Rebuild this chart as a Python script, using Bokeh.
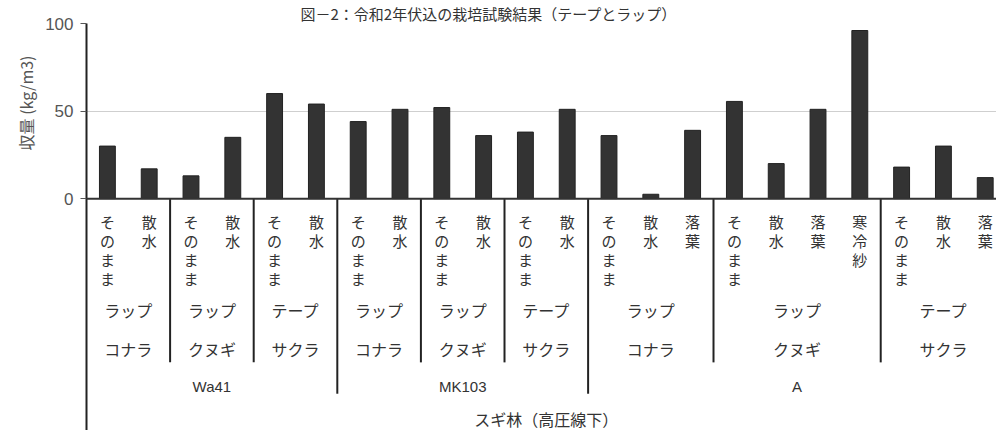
import math
from bokeh.plotting import figure
from bokeh.models import Range1d, FixedTicker, Span, Title
from bokeh.core.properties import value
from bokeh.embed import file_html
from bokeh.resources import INLINE

# ---------------- data ----------------
treatments = ["そのまま", "散水", "そのまま", "散水", "そのまま", "散水",
              "そのまま", "散水", "そのまま", "散水", "そのまま", "散水",
              "そのまま", "散水", "落葉", "そのまま", "散水", "落葉", "寒冷紗",
              "そのまま", "散水", "落葉"]
yields = [30, 17, 13, 35, 60, 54, 44, 51, 52, 36, 38, 51,
          36, 2.5, 39, 55.5, 20, 51, 96, 18, 30, 12]

wrap_labels = ["ラップ", "ラップ", "テープ", "ラップ", "ラップ", "テープ", "ラップ", "ラップ", "テープ"]
species_labels = ["コナラ", "クヌギ", "サクラ", "コナラ", "クヌギ", "サクラ", "コナラ", "クヌギ", "サクラ"]
species_sizes = [2, 2, 2, 2, 2, 2, 3, 4, 3]
strain_labels = ["Wa41", "MK103", "A"]
strain_sizes = [6, 6, 10]
forest_label = "スギ林（高圧線下）"
y_ticks = [0, 50, 100]
y_label = "収量 (kg/m3)"
title_text = "図－2：令和2年伏込の栽培試験結果（テープとラップ）"

# ---------------- figure ----------------
JP = "Noto Sans CJK JP"
TXT = "#333333"
W, H = 996, 430
LEFT, TOP = 86, 21
PX_PER_Y = 407 / 232.4  # pixels per data unit on y

p = figure(width=W, height=H, output_backend="svg", toolbar_location=None,
           x_range=Range1d(0, 21.77), y_range=Range1d(-132.4, 100),
           x_axis_location=None, min_border_left=LEFT, min_border_right=0,
           min_border_top=TOP, min_border_bottom=0)
p.outline_line_color = None
p.background_fill_color = "white"
p.border_fill_color = "white"
p.xgrid.visible = False
p.ygrid.ticker = FixedTicker(ticks=[50, 100])
p.ygrid.grid_line_color = "#cfcfcf"
p.ygrid.grid_line_width = 1

# title
p.title.text = title_text
p.title.text_font = JP
p.title.text_font_size = "15px"
p.title.text_font_style = "normal"
p.title.text_color = "#333333"
p.title.align = "left"
p.title.offset = 214
p.title.standoff = 0

ax = p.yaxis[0]
ax.ticker = FixedTicker(ticks=y_ticks)
ax.axis_line_color = "#222222"
ax.axis_line_width = 2
ax.major_tick_in = 0
ax.major_tick_out = 6
ax.major_tick_line_color = "#555555"
ax.minor_tick_line_color = None
ax.major_label_standoff = 7
ax.major_label_text_font = "Liberation Sans"
ax.major_label_text_font_size = "17px"
ax.major_label_text_color = "#555555"

# y-axis label as a side title, placed beside the 0-100 scale
ylab = Title(text=y_label, align="right", offset=32, standoff=10,
             text_font=JP, text_font_size="16px", text_font_style="normal",
             text_color="#555555")
p.add_layout(ylab, "left")

# bars
n = len(yields)
centers = [i + 0.5 for i in range(n)]
p.vbar(x=centers, top=yields, width=0.38, bottom=0,
       fill_color="#333333", line_color="#222222", line_width=1)
p.add_layout(Span(location=0, dimension="width", line_color="#333333", line_width=2))

# treatment labels, written vertically one character per line
pitch = 19 / PX_PER_Y
cx, cy, ct = [], [], []
for i, t in enumerate(treatments):
    for j, ch in enumerate(t):
        cx.append(centers[i])
        cy.append(-7.0 - j * pitch)
        ct.append(ch)
p.text(x=cx, y=cy, text=ct, text_align="center", text_baseline="top",
       text_font=value(JP), text_font_size=value("15px"), text_color=TXT)

def group_centers(sizes):
    out, start = [], 0
    for s in sizes:
        out.append(start + s / 2)
        start += s
    return out

def boundaries(sizes):
    out, start = [], 0
    for s in sizes[:-1]:
        start += s
        out.append(start)
    return out

sp_c = group_centers(species_sizes)
p.text(x=sp_c, y=[-63.5] * len(sp_c), text=wrap_labels, text_align="center",
       text_baseline="middle", text_font=value(JP), text_font_size=value("16px"),
       text_color=TXT)
p.text(x=sp_c, y=[-86.0] * len(sp_c), text=species_labels, text_align="center",
       text_baseline="middle", text_font=value(JP), text_font_size=value("16px"),
       text_color=TXT)

st_c = group_centers(strain_sizes)
p.text(x=st_c, y=[-107.0] * len(st_c), text=strain_labels, text_align="center",
       text_baseline="middle", text_font=value("Liberation Sans"),
       text_font_size=value("15px"), text_color=TXT)

p.text(x=[n / 2], y=[-125.6], text=[forest_label], text_align="center",
       text_baseline="middle", text_font=value(JP), text_font_size=value("16px"),
       text_color=TXT)

# separators
st_b = boundaries(strain_sizes)
sp_b = [b for b in boundaries(species_sizes) if b not in st_b]
p.segment(x0=sp_b, y0=[0] * len(sp_b), x1=sp_b, y1=[-93.5] * len(sp_b),
          line_color="#222222", line_width=2)
p.segment(x0=st_b, y0=[0] * len(st_b), x1=st_b, y1=[-111.4] * len(st_b),
          line_color="#222222", line_width=2)

open("out.html", "w").write(file_html(p, INLINE))
